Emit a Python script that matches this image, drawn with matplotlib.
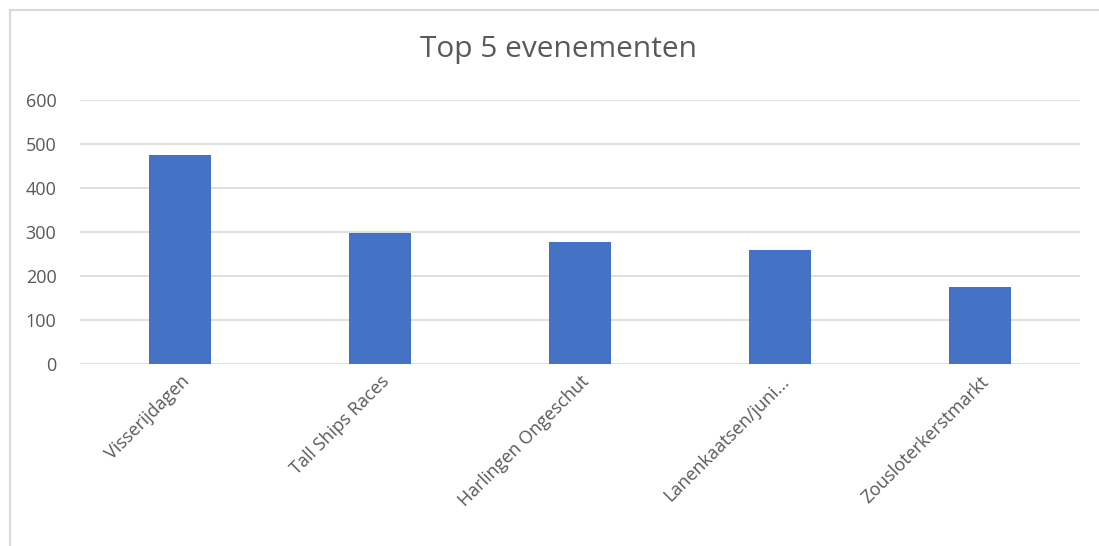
import matplotlib.pyplot as plt
from matplotlib.lines import Line2D

plt.rcParams['font.family'] = ['Open Sans', 'DejaVu Sans']

categories = ['Visserijdagen', 'Tall Ships Races', 'Harlingen Ongeschut',
              'Lanenkaatsen/juni...', 'Zousloterkerstmarkt']
values = [476, 298, 277, 259, 174]
yticks = [0, 100, 200, 300, 400, 500, 600]

text_color = '#595959'
grid_color = '#D9D9D9'

fig = plt.figure(figsize=(10.99, 5.46), dpi=100)
ax = fig.add_axes([80 / 1099, 1 - 364 / 546, 1000 / 1099, 264 / 546])

x = range(len(categories))
ax.bar(x, values, width=0.31, color='#4472C4', zorder=3)

ax.set_xlim(-0.5, len(categories) - 0.5)
ax.set_ylim(0, 600)
ax.set_yticks(yticks)
ax.set_yticklabels([str(v) for v in yticks])
ax.yaxis.grid(True, color=grid_color, linewidth=1.2, zorder=0)

ax.set_xticks(list(x))
ax.set_xticklabels(categories, rotation=45, ha='right', rotation_mode='anchor')
ax.tick_params(axis='both', length=0, colors=text_color, labelsize=13)
ax.tick_params(axis='x', pad=6)
ax.tick_params(axis='y', pad=17)

for s in ax.spines.values():
    s.set_visible(False)

fig.text(0.508, 1 - 50 / 546, 'Top 5 evenementen', ha='center', va='center',
         fontsize=21.5, color=text_color)

# chart area border (top and left edge visible)
fig.add_artist(Line2D([9.5 / 1099, 9.5 / 1099], [0, 1 - 9.5 / 546],
                      transform=fig.transFigure, color=grid_color, linewidth=1.5))
fig.add_artist(Line2D([9.5 / 1099, 1], [1 - 9.5 / 546, 1 - 9.5 / 546],
                      transform=fig.transFigure, color=grid_color, linewidth=1.5))

fig.savefig('out.png', dpi=100, facecolor='white')
